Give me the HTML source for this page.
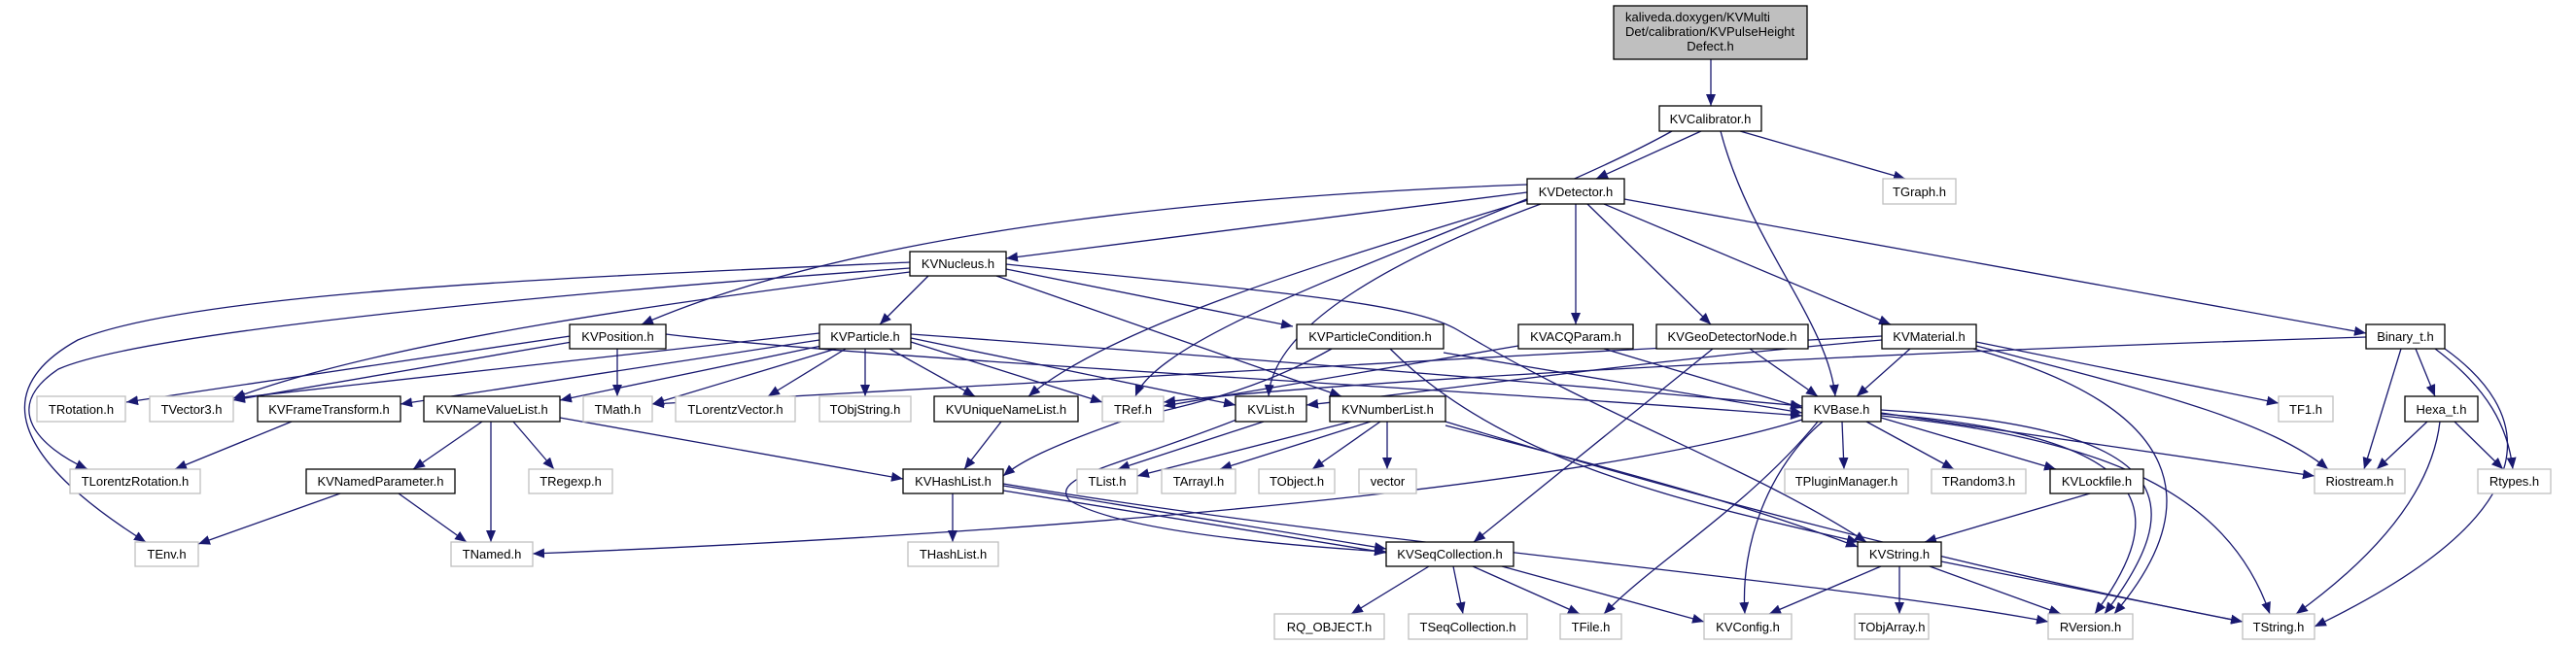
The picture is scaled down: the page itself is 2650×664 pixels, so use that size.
<!DOCTYPE html>
<html><head><meta charset="utf-8"><style>
html,body{margin:0;padding:0;background:#fff;}
svg{display:block;}
text{font-family:"Liberation Sans",Arial,sans-serif;font-size:13px;fill:#000;}
.b{fill:#fff;stroke:#000;stroke-width:1.3;}
.g{fill:#fff;stroke:#bfbfbf;stroke-width:1.3;}
.e{fill:none;stroke:#191970;stroke-width:1.3;marker-end:url(#a);}
</style></head><body>
<svg width="2650" height="664" viewBox="0 0 2650 664" xmlns="http://www.w3.org/2000/svg">
<defs><marker id="a" markerWidth="12" markerHeight="10" refX="12" refY="5" orient="auto" markerUnits="userSpaceOnUse"><path d="M0,0 L12,5 L0,10 z" fill="#191970"/></marker></defs>
<g>
<path class="e" d="M1760,61 L1760,109"/>
<path class="e" d="M1750,135 L1642,184"/>
<path class="e" d="M1790,135 L1960,184"/>
<path class="e" d="M1770,135 C1800,250 1880,330 1888,408"/>
<path class="e" d="M1720,135 C1550,230 1200,330 1168,408"/>
<path class="e" d="M1571,190 C1300,200 900,230 660,334"/>
<path class="e" d="M1571,198 L1035,266"/>
<path class="e" d="M1575,205 C1400,260 1150,330 1058,408"/>
<path class="e" d="M1585,210 C1450,260 1310,330 1305,408"/>
<path class="e" d="M1621,210 L1621,334"/>
<path class="e" d="M1633,210 L1760,334"/>
<path class="e" d="M1650,210 L1945,334"/>
<path class="e" d="M1671,205 L2434,343"/>
<path class="e" d="M955,284 L905,334"/>
<path class="e" d="M1035,277 L1330,336"/>
<path class="e" d="M1025,284 L1380,408"/>
<path class="e" d="M1035,272 C1300,300 1450,310 1500,340 C1650,430 1800,480 1920,558"/>
<path class="e" d="M936,270 C600,285 200,300 80,350 C-10,400 10,470 150,558"/>
<path class="e" d="M936,276 C600,300 150,340 60,380 C0,420 40,460 90,483"/>
<path class="e" d="M936,280 C700,310 400,350 240,410"/>
<path class="e" d="M600,344 L130,414"/>
<path class="e" d="M600,350 L240,412"/>
<path class="e" d="M635,359 L635,408"/>
<path class="e" d="M685,344 C900,370 1500,400 1854,428"/>
<path class="e" d="M843,343 L240,410"/>
<path class="e" d="M843,350 L412,416"/>
<path class="e" d="M850,355 L576,412"/>
<path class="e" d="M860,359 L671,416"/>
<path class="e" d="M870,359 L790,408"/>
<path class="e" d="M890,359 L890,408"/>
<path class="e" d="M915,359 L1003,408"/>
<path class="e" d="M937,352 L1134,414"/>
<path class="e" d="M937,348 L1271,417"/>
<path class="e" d="M937,344 C1300,370 1600,395 1854,418"/>
<path class="e" d="M1370,359 C1280,410 1200,420 1150,435 C1080,460 1050,475 1032,490"/>
<path class="e" d="M1485,363 L1854,425"/>
<path class="e" d="M1430,359 C1550,480 1750,520 1912,558"/>
<path class="e" d="M1562,356 L1197,418"/>
<path class="e" d="M1650,359 L1854,420"/>
<path class="e" d="M1800,359 L1870,408"/>
<path class="e" d="M1762,359 L1516,558"/>
<path class="e" d="M1965,359 L1910,408"/>
<path class="e" d="M2033,352 L2344,415"/>
<path class="e" d="M2033,356 C2200,400 2330,430 2395,483"/>
<path class="e" d="M2030,359 C2250,420 2270,520 2175,632"/>
<path class="e" d="M1936,346 C1500,370 1000,395 671,416"/>
<path class="e" d="M1936,350 C1700,370 1500,400 1344,417"/>
<path class="e" d="M2434,347 C2000,360 1400,390 1197,414"/>
<path class="e" d="M2470,359 L2432,483"/>
<path class="e" d="M2485,359 L2505,408"/>
<path class="e" d="M2505,359 C2560,400 2580,440 2585,483"/>
<path class="e" d="M2515,359 C2600,420 2640,520 2381,645"/>
<path class="e" d="M2497,434 L2445,483"/>
<path class="e" d="M2510,434 C2500,520 2420,590 2362,632"/>
<path class="e" d="M2525,434 L2575,483"/>
<path class="e" d="M1895,434 L1897,483"/>
<path class="e" d="M1920,434 L2010,483"/>
<path class="e" d="M1935,430 L2115,483"/>
<path class="e" d="M1935,425 L2381,490"/>
<path class="e" d="M1935,428 C2150,450 2290,500 2335,632"/>
<path class="e" d="M1935,422 C2250,440 2250,520 2165,632"/>
<path class="e" d="M1935,426 C2230,450 2230,530 2155,632"/>
<path class="e" d="M1875,434 C1820,480 1790,560 1795,632"/>
<path class="e" d="M1870,434 C1800,520 1700,580 1650,632"/>
<path class="e" d="M1854,432 C1700,480 1300,540 548,570"/>
<path class="e" d="M2150,508 L1980,558"/>
<path class="e" d="M1935,583 L1820,632"/>
<path class="e" d="M1954,583 L1954,632"/>
<path class="e" d="M1985,583 L2120,632"/>
<path class="e" d="M1997,578 L2307,640"/>
<path class="e" d="M1030,434 L992,483"/>
<path class="e" d="M496,434 L425,483"/>
<path class="e" d="M505,434 L505,558"/>
<path class="e" d="M528,434 L570,483"/>
<path class="e" d="M576,430 L929,493"/>
<path class="e" d="M350,508 L204,560"/>
<path class="e" d="M410,508 L480,558"/>
<path class="e" d="M300,434 L180,483"/>
<path class="e" d="M1300,434 L1150,483"/>
<path class="e" d="M1272,432 C1150,480 1080,490 1100,515 C1150,545 1300,560 1426,568"/>
<path class="e" d="M1390,434 L1170,490"/>
<path class="e" d="M1410,434 L1255,483"/>
<path class="e" d="M1420,434 L1350,483"/>
<path class="e" d="M1427,434 L1427,483"/>
<path class="e" d="M1487,438 C1650,480 1800,520 1911,563"/>
<path class="e" d="M1487,434 C1800,530 2100,600 2307,640"/>
<path class="e" d="M980,508 L980,558"/>
<path class="e" d="M1032,500 L1426,565"/>
<path class="e" d="M1032,505 L1426,569"/>
<path class="e" d="M1032,498 C1400,560 1900,600 2107,640"/>
<path class="e" d="M1470,583 L1390,632"/>
<path class="e" d="M1495,583 L1505,632"/>
<path class="e" d="M1515,583 L1625,632"/>
<path class="e" d="M1545,583 L1753,640"/>
</g>
<g>
<rect x="1660" y="6" width="199" height="55" fill="#bfbfbf" stroke="#000" stroke-width="1.3"/>
<text x="1672" y="22">kaliveda.doxygen/KVMulti</text>
<text x="1672" y="37">Det/calibration/KVPulseHeight</text>
<text x="1759.5" y="52" text-anchor="middle">Defect.h</text>
</g>
<g text-anchor="middle">
<rect class="b" x="1707" y="109" width="105" height="26"/><text x="1759.5" y="127">KVCalibrator.h</text>
<rect class="b" x="1571" y="184" width="100" height="26"/><text x="1621" y="202">KVDetector.h</text>
<rect class="g" x="1937" y="184" width="75" height="26"/><text x="1974.5" y="202">TGraph.h</text>
<rect class="b" x="936" y="259" width="99" height="25"/><text x="985.5" y="276">KVNucleus.h</text>
<rect class="b" x="586" y="334" width="99" height="25"/><text x="635.5" y="351">KVPosition.h</text>
<rect class="b" x="843" y="334" width="94" height="25"/><text x="890" y="351">KVParticle.h</text>
<rect class="b" x="1334" y="334" width="151" height="25"/><text x="1409.5" y="351">KVParticleCondition.h</text>
<rect class="b" x="1562" y="334" width="118" height="25"/><text x="1621" y="351">KVACQParam.h</text>
<rect class="b" x="1704" y="334" width="156" height="25"/><text x="1782" y="351">KVGeoDetectorNode.h</text>
<rect class="b" x="1936" y="334" width="97" height="25"/><text x="1984.5" y="351">KVMaterial.h</text>
<rect class="b" x="2434" y="334" width="81" height="25"/><text x="2474.5" y="351">Binary_t.h</text>
<rect class="g" x="38" y="408" width="91" height="26"/><text x="83.5" y="426">TRotation.h</text>
<rect class="g" x="154" y="408" width="86" height="26"/><text x="197" y="426">TVector3.h</text>
<rect class="b" x="265" y="408" width="147" height="26"/><text x="338.5" y="426">KVFrameTransform.h</text>
<rect class="b" x="436" y="408" width="140" height="26"/><text x="506" y="426">KVNameValueList.h</text>
<rect class="g" x="600" y="408" width="71" height="26"/><text x="635.5" y="426">TMath.h</text>
<rect class="g" x="695" y="408" width="123" height="26"/><text x="756.5" y="426">TLorentzVector.h</text>
<rect class="g" x="843" y="408" width="94" height="26"/><text x="890" y="426">TObjString.h</text>
<rect class="b" x="961" y="408" width="148" height="26"/><text x="1035" y="426">KVUniqueNameList.h</text>
<rect class="g" x="1134" y="408" width="63" height="26"/><text x="1165.5" y="426">TRef.h</text>
<rect class="b" x="1271" y="408" width="73" height="26"/><text x="1307.5" y="426">KVList.h</text>
<rect class="b" x="1368" y="408" width="119" height="26"/><text x="1427.5" y="426">KVNumberList.h</text>
<rect class="b" x="1854" y="408" width="81" height="26"/><text x="1894.5" y="426">KVBase.h</text>
<rect class="g" x="2344" y="408" width="56" height="26"/><text x="2372" y="426">TF1.h</text>
<rect class="b" x="2474" y="408" width="75" height="26"/><text x="2511.5" y="426">Hexa_t.h</text>
<rect class="g" x="72" y="483" width="134" height="25"/><text x="139" y="500">TLorentzRotation.h</text>
<rect class="b" x="315" y="483" width="153" height="25"/><text x="391.5" y="500">KVNamedParameter.h</text>
<rect class="g" x="544" y="483" width="86" height="25"/><text x="587" y="500">TRegexp.h</text>
<rect class="b" x="929" y="483" width="103" height="25"/><text x="980.5" y="500">KVHashList.h</text>
<rect class="g" x="1108" y="483" width="62" height="25"/><text x="1139" y="500">TList.h</text>
<rect class="g" x="1195" y="483" width="76" height="25"/><text x="1233" y="500">TArrayI.h</text>
<rect class="g" x="1295" y="483" width="78" height="25"/><text x="1334" y="500">TObject.h</text>
<rect class="g" x="1398" y="483" width="59" height="25"/><text x="1427.5" y="500">vector</text>
<rect class="g" x="1836" y="483" width="127" height="25"/><text x="1899.5" y="500">TPluginManager.h</text>
<rect class="g" x="1987" y="483" width="97" height="25"/><text x="2035.5" y="500">TRandom3.h</text>
<rect class="b" x="2109" y="483" width="96" height="25"/><text x="2157" y="500">KVLockfile.h</text>
<rect class="g" x="2381" y="483" width="93" height="25"/><text x="2427.5" y="500">Riostream.h</text>
<rect class="g" x="2549" y="483" width="75" height="25"/><text x="2586.5" y="500">Rtypes.h</text>
<rect class="g" x="139" y="558" width="65" height="25"/><text x="171.5" y="575">TEnv.h</text>
<rect class="g" x="464" y="558" width="84" height="25"/><text x="506" y="575">TNamed.h</text>
<rect class="g" x="934" y="558" width="93" height="25"/><text x="980.5" y="575">THashList.h</text>
<rect class="b" x="1426" y="558" width="131" height="25"/><text x="1491.5" y="575">KVSeqCollection.h</text>
<rect class="b" x="1911" y="558" width="86" height="25"/><text x="1954" y="575">KVString.h</text>
<rect class="g" x="1311" y="632" width="113" height="26"/><text x="1367.5" y="650">RQ_OBJECT.h</text>
<rect class="g" x="1449" y="632" width="122" height="26"/><text x="1510" y="650">TSeqCollection.h</text>
<rect class="g" x="1605" y="632" width="63" height="26"/><text x="1636.5" y="650">TFile.h</text>
<rect class="g" x="1753" y="632" width="90" height="26"/><text x="1798" y="650">KVConfig.h</text>
<rect class="g" x="1908" y="632" width="76" height="26"/><text x="1946" y="650">TObjArray.h</text>
<rect class="g" x="2107" y="632" width="87" height="26"/><text x="2150.5" y="650">RVersion.h</text>
<rect class="g" x="2307" y="632" width="74" height="26"/><text x="2344" y="650">TString.h</text>
</g>
</svg>
</body></html>
